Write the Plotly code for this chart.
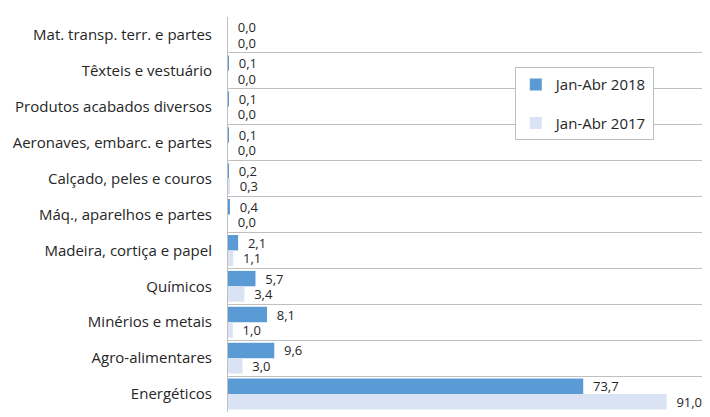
import plotly.graph_objects as go

categories = ["Mat. transp. terr. e partes", "Têxteis e vestuário", "Produtos acabados diversos",
              "Aeronaves, embarc. e partes", "Calçado, peles e couros", "Máq., aparelhos e partes",
              "Madeira, cortiça e papel", "Químicos", "Minérios e metais", "Agro-alimentares", "Energéticos"]
v2018 = [0.0, 0.1, 0.1, 0.1, 0.2, 0.4, 2.1, 5.7, 8.1, 9.6, 73.7]
v2017 = [0.0, 0.0, 0.0, 0.0, 0.3, 0.0, 1.1, 3.4, 1.0, 3.0, 91.0]

font = "Open Sans"
txtcol = "#262626"
fs = 15
lfs = 13

fig = go.Figure()
fig.add_trace(go.Bar(y=categories, x=v2018, orientation="h", name="Jan-Abr 2018",
                     marker_color="#5B9BD5", texttemplate="\u00a0\u00a0%{x:.1f}", textposition="outside",
                     constraintext="none",
                     textfont=dict(family=font, size=lfs, color=txtcol), cliponaxis=False,
                     legendgroup="a"))
fig.add_trace(go.Bar(y=categories, x=v2017, orientation="h", name="Jan-Abr 2017",
                     marker_color="#DAE3F3", texttemplate="\u00a0\u00a0%{x:.1f}", textposition="outside",
                     constraintext="none",
                     textfont=dict(family=font, size=lfs, color=txtcol), cliponaxis=False,
                     legendgroup="b"))

fig.update_layout(
    template="none",
    width=702, height=409,
    margin=dict(l=220, r=0, t=9, b=5, pad=0, autoexpand=False),
    barmode="group", bargap=0.14, bargroupgap=0,
    separators=",.",
    plot_bgcolor="white", paper_bgcolor="white",
    font=dict(family=font, size=fs, color=txtcol),
    showlegend=True,
    legend=dict(x=0.595, y=0.873, xanchor="left", yanchor="top",
                bordercolor="#BFBFBF", borderwidth=1, bgcolor="white",
                tracegroupgap=16, font=dict(family=font, size=fs, color=txtcol)),
    xaxis=dict(range=[0, 100], showgrid=False, showticklabels=False, zeroline=False,
               ticks="", showline=False, automargin=False),
    yaxis=dict(autorange="reversed", tickson="boundaries", showgrid=True,
               gridcolor="#C0C0C0", gridwidth=1, showline=True, linecolor="#C0C0C0",
               ticks="", ticklabelstandoff=12, automargin=False,
               tickfont=dict(family=font, size=fs, color=txtcol)),
)

fig.write_html("out.html")
